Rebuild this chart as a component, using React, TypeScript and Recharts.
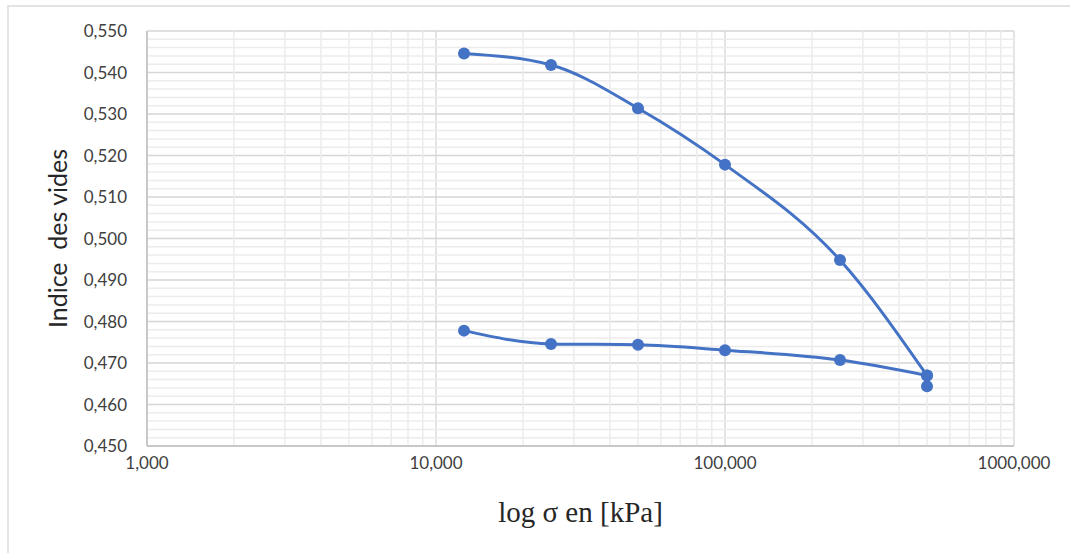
import React from 'react';
import {
    LineChart,
    Line,
    XAxis,
    YAxis,
    CartesianGrid,
    ReferenceLine,
    Label,
} from 'recharts';

// loading branch (chargement)
const loadPressure = [12.5, 25, 50, 100, 250, 500];
const loadVoid = [0.5446, 0.5418, 0.5314, 0.5178, 0.4948, 0.467];

// unloading branch (déchargement), sorted by pressure
const unloadPressure = [12.5, 25, 50, 100, 250, 500];
const unloadVoid = [0.4778, 0.4746, 0.4744, 0.4731, 0.4707, 0.467];

// lone point left at the end of the load step
const lastPressure = [500];
const lastVoid = [0.4644];

const xTicks = [1, 10, 100, 1000];
const yTicks = [0.45, 0.46, 0.47, 0.48, 0.49, 0.5, 0.51, 0.52, 0.53, 0.54, 0.55];

const BLUE = '#4472C4';

const toRows = (xs: number[], ys: number[]) => xs.map((p, i) => ({ p, e: ys[i] }));

const loadData = toRows(loadPressure, loadVoid);
const unloadData = toRows(unloadPressure, unloadVoid);
const lastData = toRows(lastPressure, lastVoid);

// minor gridlines: 2..9 inside each decade, and every 0.002 on y
const minorX: number[] = [];
[1, 10, 100].forEach((d) => {
    for (let k = 2; k <= 9; k++) minorX.push(d * k);
});
const minorY: number[] = [];
for (let i = 0; i < 50; i++) {
    if (i % 5 !== 0) minorY.push(Math.round((0.45 + i * 0.002) * 1000) / 1000);
}

const fmt = (v: number) => v.toFixed(3).replace('.', ',');

const dotStyle = { r: 6, fill: BLUE, stroke: BLUE, strokeWidth: 0 };
const tickStyle = { fill: '#404040', fontSize: 17, fontFamily: 'Lato' };

export default function App() {
    return (
        <div
            style={{
                position: 'absolute',
                left: 0,
                top: 0,
                width: 1070,
                height: 553,
                background: '#fff',
                overflow: 'hidden',
            }}
        >
            <div
                style={{
                    position: 'absolute',
                    left: 7,
                    top: 5,
                    width: 1080,
                    height: 560,
                    borderLeft: '2px solid #e3e3e3',
                    borderTop: '2px solid #e3e3e3',
                }}
            />
            <div style={{ position: 'absolute', left: 0, top: 0 }}>
                <LineChart
                    width={1070}
                    height={553}
                    margin={{ top: 31, right: 56, bottom: 0, left: 0 }}
                >
                    {minorX.map((v) => (
                        <ReferenceLine key={`mx-${v}`} x={v} stroke="#ececec" strokeWidth={1.5} />
                    ))}
                    {minorY.map((v) => (
                        <ReferenceLine key={`my-${v}`} y={v} stroke="#ececec" strokeWidth={1.5} />
                    ))}
                    <CartesianGrid stroke="#d6d6d6" strokeWidth={1.3} />
                    <XAxis
                        type="number"
                        dataKey="p"
                        scale="log"
                        domain={[1, 1000]}
                        ticks={xTicks}
                        allowDataOverflow
                        tickFormatter={fmt}
                        tickLine={false}
                        axisLine={{ stroke: '#bfbfbf', strokeWidth: 1.5 }}
                        tickSize={0}
                        tickMargin={11}
                        tick={tickStyle}
                        height={107}
                    >
                        <Label
                            value="log σ en [kPa]"
                            position="insideTop"
                            offset={55}
                            style={{ fill: '#262626', fontSize: 29, fontFamily: 'Liberation Serif' }}
                        />
                    </XAxis>
                    <YAxis
                        type="number"
                        domain={[0.45, 0.55]}
                        ticks={yTicks}
                        allowDataOverflow
                        tickFormatter={fmt}
                        tickLine={false}
                        axisLine={{ stroke: '#bfbfbf', strokeWidth: 1.5 }}
                        tickSize={0}
                        tickMargin={20}
                        tick={tickStyle}
                        width={147}
                    >
                        <Label
                            value={'Indice\u00a0\u00a0des vides'}
                            angle={-90}
                            position="insideLeft"
                            offset={58}
                            style={{
                                fill: '#262626',
                                fontSize: 25,
                                fontFamily: 'Lato',
                                textAnchor: 'middle',
                            }}
                        />
                    </YAxis>
                    <Line
                        data={loadData}
                        dataKey="e"
                        type="monotone"
                        stroke={BLUE}
                        strokeWidth={3}
                        dot={dotStyle}
                        isAnimationActive={false}
                    />
                    <Line
                        data={unloadData}
                        dataKey="e"
                        type="monotone"
                        stroke={BLUE}
                        strokeWidth={3}
                        dot={dotStyle}
                        isAnimationActive={false}
                    />
                    <Line
                        data={lastData}
                        dataKey="e"
                        stroke={BLUE}
                        strokeWidth={3}
                        dot={dotStyle}
                        isAnimationActive={false}
                    />
                </LineChart>
            </div>
        </div>
    );
}
